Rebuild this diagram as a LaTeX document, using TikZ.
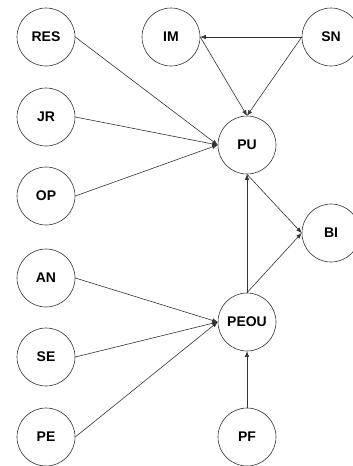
\documentclass[tikz,border=0pt]{standalone}
\usepackage{fontspec}
\setmainfont{Liberation Sans}
\usetikzlibrary{arrows.meta}
\begin{document}
\begin{tikzpicture}[x=1pt,y=-1pt,
  var/.style={circle,draw=black!80,line width=0.6pt,minimum size=58pt,inner sep=0pt,
    font=\fontsize{14}{16}\selectfont\bfseries},
  conn/.style={draw=black!80,line width=0.6pt,-{Latex[length=5.5pt,width=4.5pt]}}]
\useasboundingbox (0,0) rectangle (353,466);
\node[var] (RES) at (46,37) {RES};
\node[var] (IM) at (171,37) {IM};
\node[var] (SN) at (331,37) {SN};
\node[var] (JR) at (46,117) {JR};
\node[var] (PU) at (247,145) {PU};
\node[var] (OP) at (46,196) {OP};
\node[var] (BI) at (331,233) {BI};
\node[var] (AN) at (46,278) {AN};
\node[var] (PEOU) at (247,322) {PEOU};
\node[var] (SE) at (46,357) {SE};
\node[var] (PE) at (46,437) {PE};
\node[var] (PF) at (247,437) {PF};
\draw[conn] (RES.east) -- (PU.west);
\draw[conn] (JR.east) -- (PU.west);
\draw[conn] (OP.east) -- (PU.west);
\draw[conn] (SN.west) -- (IM.east);
\draw[conn] (SN.west) -- (PU.north);
\draw[conn] (IM.east) -- (PU.north);
\draw[conn] (PEOU.north) -- (PU.south);
\draw[conn] (PU.south) -- (BI.west);
\draw[conn] (PEOU.north) -- (BI.west);
\draw[conn] (AN.east) -- (PEOU.west);
\draw[conn] (SE.east) -- (PEOU.west);
\draw[conn] (PE.east) -- (PEOU.west);
\draw[conn] (PF.north) -- (PEOU.south);
\end{tikzpicture}
\end{document}
